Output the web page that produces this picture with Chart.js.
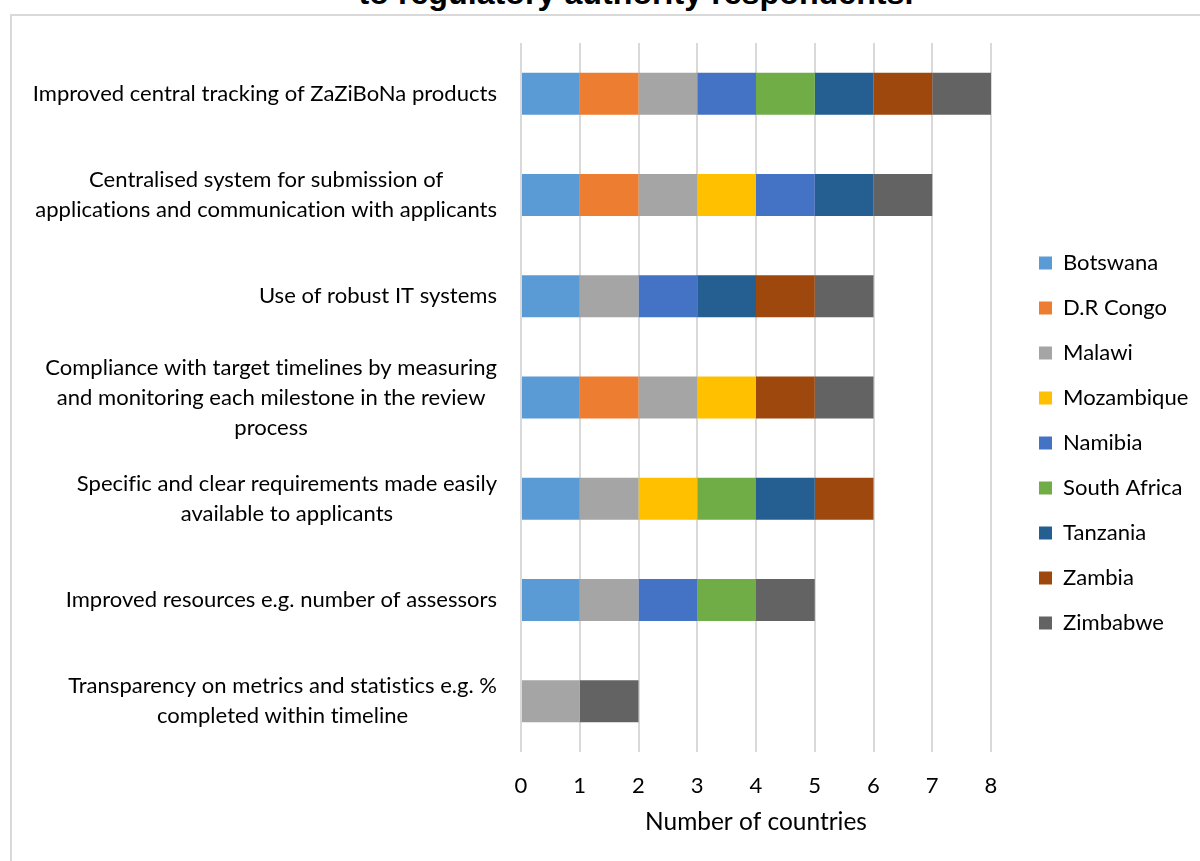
<!DOCTYPE html>
<html>
<head>
<meta charset="utf-8">
<script src="https://cdn.jsdelivr.net/npm/chart.js@4.4.1/dist/chart.umd.min.js"></script>
<style>
  html, body { margin: 0; padding: 0; background: #fff; overflow: hidden; }
  #heading {
    position: absolute; left: 0; top: 0; width: 1272px;
    text-align: center; white-space: nowrap; line-height: 1;
    font-family: "Liberation Sans", Arial, sans-serif; font-weight: bold; color: #000;
  }
  #frame {
    position: absolute; left: 10px; top: 14px; width: 1220px; height: 880px;
    border: 2px solid #d9d9d9; box-sizing: border-box;
  }
  #chart { position: absolute; left: 0; top: 0; }
</style>
</head>
<body>
<div id="heading">to regulatory authority respondents.</div>
<div id="frame"></div>
<canvas id="chart" width="1200" height="861"></canvas>
<script>
// categories, top to bottom (already wrapped as in the original)
const categories = [
  ['Improved central tracking of ZaZiBoNa products'],
  ['Centralised system for submission of', 'applications and communication with applicants'],
  ['Use of robust IT systems'],
  ['Compliance with target timelines by measuring', 'and monitoring each milestone in the review', 'process'],
  ['Specific and clear requirements made easily', 'available to applicants'],
  ['Improved resources e.g. number of assessors'],
  ['Transparency on metrics and statistics e.g. %', 'completed within timeline']
];

const countries = ['Botswana', 'D.R Congo', 'Malawi', 'Mozambique', 'Namibia', 'South Africa', 'Tanzania', 'Zambia', 'Zimbabwe'];
const countryColors = ['#5B9BD5', '#ED7D31', '#A5A5A5', '#FFC000', '#4472C4', '#70AD47', '#255E91', '#9E480E', '#636363'];

// 1 = country named the improvement
const botswana   = [1, 1, 1, 1, 1, 1, 0];
const drCongo    = [1, 1, 0, 1, 0, 0, 0];
const malawi     = [1, 1, 1, 1, 1, 1, 1];
const mozambique = [0, 1, 0, 1, 1, 0, 0];
const namibia    = [1, 1, 1, 0, 0, 1, 0];
const southAfrica= [1, 0, 0, 0, 1, 1, 0];
const tanzania   = [1, 1, 1, 0, 1, 0, 0];
const zambia     = [1, 0, 1, 1, 1, 0, 0];
const zimbabwe   = [1, 1, 1, 1, 0, 1, 1];

const seriesValues = [botswana, drCongo, malawi, mozambique, namibia, southAfrica, tanzania, zambia, zimbabwe];

const xMax = 8;
const axisTitle = 'Number of countries';

const FONT = '"Lato", "Open Sans", sans-serif';
const measure = document.createElement('canvas').getContext('2d');
function fitSize(text, target, family, weight) {
  measure.font = `${weight} 100px ${family}`;
  return 100 * target / measure.measureText(text).width;
}

const labelSize = fitSize(categories[0][0], 464, FONT, 'normal');
const titleSize = fitSize(axisTitle, 222, FONT, 'normal');
const headSize = fitSize('to regulatory authority respondents.', 555, '"Liberation Sans", Arial, sans-serif', 'bold');

const heading = document.getElementById('heading');
heading.style.fontSize = headSize + 'px';
heading.style.top = (4 - 0.8465 * headSize) + 'px';

const LABEL_RIGHT = 497;
const LABEL_LINE = 30;
const LEGEND_ITEM = 45;
const legendPad = LEGEND_ITEM - labelSize;

// category labels: block right-aligned, lines centred inside it
const categoryLabels = {
  id: 'categoryLabels',
  afterDraw(chart) {
    const { ctx, scales: { y } } = chart;
    ctx.save();
    ctx.font = `${labelSize}px ${FONT}`;
    ctx.letterSpacing = '0.01px'; // no ligatures, like Excel
    ctx.fillStyle = '#000';
    ctx.textAlign = 'center';
    ctx.textBaseline = 'middle';
    categories.forEach((lines, i) => {
      const cy = y.getPixelForTick(i);
      const w = Math.max(...lines.map(t => ctx.measureText(t).width));
      const cx = LABEL_RIGHT - w / 2;
      lines.forEach((t, j) => {
        ctx.fillText(t, cx, cy + (j - (lines.length - 1) / 2) * LABEL_LINE);
      });
    });
    ctx.restore();
  }
};

// move the legend away from the plot area, as in the Excel layout
const legendPlace = {
  id: 'legendPlace',
  afterLayout(chart) {
    const lg = chart.legend;
    lg.left = 1039 - legendPad;
    lg.right = 1200;
    lg.width = lg.right - lg.left;
    const cursorY = 263 - labelSize / 2;
    lg.bottom = 861;
    lg.top = 2 * cursorY - legendPad + countries.length * LEGEND_ITEM - lg.bottom;
    lg.height = lg.bottom - lg.top;
  }
};

Chart.defaults.font.family = FONT;
Chart.defaults.color = '#000';

new Chart(document.getElementById('chart'), {
  type: 'bar',
  data: {
    labels: categories,
    datasets: countries.map((name, i) => ({
      label: name,
      data: seriesValues[i],
      backgroundColor: countryColors[i],
      borderWidth: 0,
      categoryPercentage: 1,
      barPercentage: 0.415
    }))
  },
  options: {
    indexAxis: 'y',
    responsive: false,
    animation: false,
    layout: { padding: { top: 43, right: 109, bottom: 0, left: 0 } },
    scales: {
      x: {
        stacked: true,
        min: 0,
        max: xMax,
        ticks: { stepSize: 1, padding: 21, font: { size: labelSize }, color: '#000' },
        grid: { color: '#d9d9d9', lineWidth: 2, drawTicks: false },
        border: { display: false },
        title: {
          display: true,
          text: axisTitle,
          font: { size: titleSize },
          color: '#000',
          padding: { top: 0, bottom: 24 }
        },
        afterFit: s => { s.height = 109; }
      },
      y: {
        stacked: true,
        grid: { display: false },
        border: { display: false },
        ticks: { display: false },
        afterFit: s => { s.width = 521; }
      }
    },
    plugins: {
      legend: {
        position: 'right',
        maxWidth: 100,
        labels: {
          boxWidth: 13,
          boxHeight: 13,
          padding: legendPad,
          color: '#000',
          font: { size: labelSize }
        }
      },
      title: { display: false },
      tooltip: { enabled: false }
    }
  },
  plugins: [categoryLabels, legendPlace]
});
</script>
</body>
</html>
